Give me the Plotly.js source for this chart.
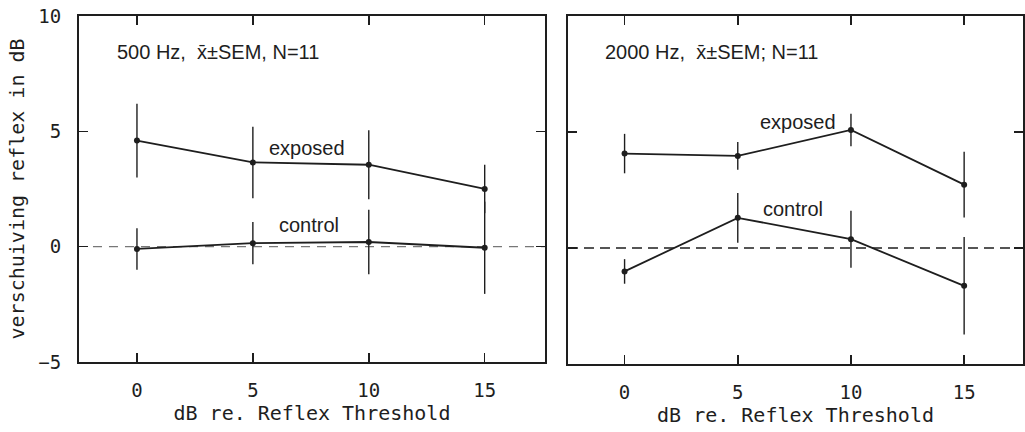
<!DOCTYPE html>
<html><head><meta charset="utf-8">
<script src="https://cdn.plot.ly/plotly-3.0.1.min.js"></script>
<style>html,body{margin:0;padding:0;background:#fff}</style>
</head><body><div id="chart" style="width:1025px;height:432px"></div>
<script>
const thresholds = [0, 5, 10, 15];
// 500 Hz panel
const exposed500 = [4.6, 3.65, 3.55, 2.5];
const exposed500Err = [1.6, 1.55, 1.5, 1.05];
const control500 = [-0.1, 0.15, 0.2, -0.05];
const control500Err = [0.9, 0.92, 1.4, 2.0];
// 2000 Hz panel
const exposed2000 = [4.07, 3.97, 5.09, 2.73];
const exposed2000Err = [0.85, 0.6, 0.7, 1.42];
const control2000 = [-1.01, 1.3, 0.38, -1.63];
const control2000Err = [0.53, 1.07, 1.23, 2.1];
const xTicks = [0, 5, 10, 15];
const yTicks = [-5, 0, 5, 10];

const ink = '#1e1e1e';
function series(name, x, y, err, xa, ya) {
  return {
    type: 'scatter', mode: 'lines+markers', name: name, x: x, y: y,
    xaxis: xa, yaxis: ya, showlegend: false,
    line: {color: ink, width: 1.8},
    marker: {color: ink, size: 6},
    error_y: {type: 'data', array: err, visible: true, color: ink, thickness: 1.4, width: 0}
  };
}
const data = [
  series('exposed', thresholds, exposed500, exposed500Err, 'x', 'y'),
  series('control', thresholds, control500, control500Err, 'x', 'y'),
  series('exposed', thresholds, exposed2000, exposed2000Err, 'x2', 'y2'),
  series('control', thresholds, control2000, control2000Err, 'x2', 'y2')
];

const mono = {family: 'DejaVu Sans Mono', size: 19, color: ink};
const titleFont = {family: 'DejaVu Sans Mono', size: 20, color: ink};
function xax(domain, anchor) {
  return {domain: domain, anchor: anchor, range: [-2.5, 17.6], tickvals: xTicks,
    ticks: 'inside', ticklen: 9, tickwidth: 1.6, tickcolor: ink, mirror: 'ticks',
    showline: true, linewidth: 2, linecolor: ink, showgrid: false, zeroline: false,
    tickfont: mono, ticklabelstandoff: 10,
    title: {text: 'dB re. Reflex Threshold', font: titleFont, standoff: 6}};
}
function yax(domain, anchor, labels) {
  return {domain: domain, anchor: anchor, range: [-5, 10], tickvals: yTicks,
    ticks: 'inside', ticklen: 9, tickwidth: 1.6, tickcolor: ink, mirror: 'ticks',
    showline: true, linewidth: 2, linecolor: ink, showgrid: false, zeroline: false,
    showticklabels: labels, tickfont: mono, ticklabelstandoff: 12,
    title: labels ? {text: 'verschuiving reflex in dB', font: titleFont, standoff: 8} : {text: ''}};
}
const sans = {family: 'Liberation Sans', size: 20, color: ink};
const layout = {
  width: 1025, height: 432,
  margin: {l: 79, r: 2, t: 16, b: 68},
  paper_bgcolor: '#fff', plot_bgcolor: '#fff',
  xaxis: xax([0, 0.4936], 'y'),
  yaxis: yax([0.006, 1], 'x', true),
  xaxis2: xax([0.518, 1], 'y2'),
  yaxis2: yax([0, 1], 'x2', false),
  shapes: [
    {type: 'line', xref: 'x domain', yref: 'y', x0: 0.03, x1: 1, y0: 0, y1: 0,
     line: {color: '#777', width: 1.3, dash: '9px,7px'}, layer: 'below'},
    {type: 'line', xref: 'x2 domain', yref: 'y2', x0: 0, x1: 1, y0: 0, y1: 0,
     line: {color: ink, width: 1.4, dash: '10px,6px'}, layer: 'below'}
  ],
  annotations: [
    {xref: 'x', yref: 'y', x: -0.95, y: 8.45, xanchor: 'left', text: '500 Hz,  x\u0304\u00b1SEM, N=11', showarrow: false, font: sans},
    {xref: 'x2', yref: 'y2', x: -0.95, y: 8.45, xanchor: 'left', text: '2000 Hz,  x\u0304\u00b1SEM; N=11', showarrow: false, font: sans},
    {xref: 'x', yref: 'y', x: 7.35, y: 4.26, text: 'exposed', showarrow: false, font: sans},
    {xref: 'x', yref: 'y', x: 7.41, y: 0.94, text: 'control', showarrow: false, font: sans},
    {xref: 'x2', yref: 'y2', x: 7.68, y: 5.44, text: 'exposed', showarrow: false, font: sans},
    {xref: 'x2', yref: 'y2', x: 7.45, y: 1.68, text: 'control', showarrow: false, font: sans}
  ]
};
Plotly.newPlot('chart', data, layout, {displayModeBar: false, staticPlot: true});
</script></body></html>
